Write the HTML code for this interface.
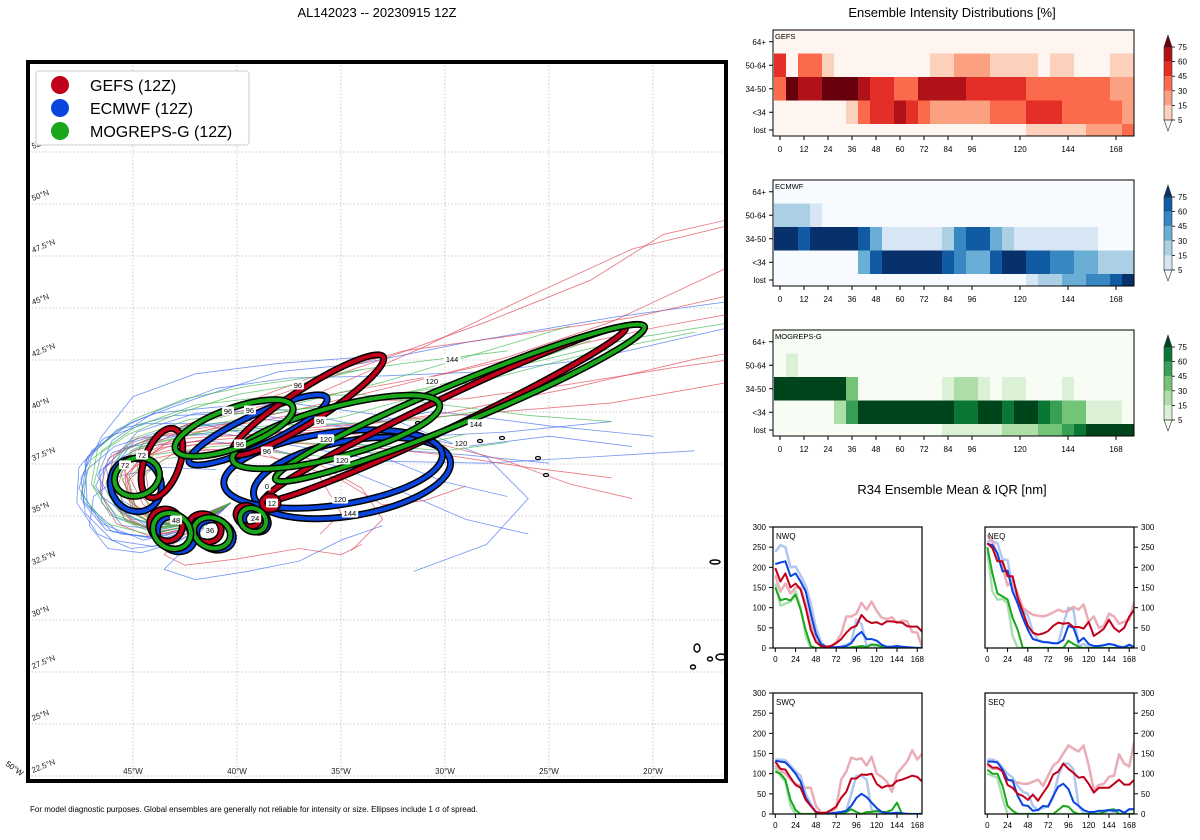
<!DOCTYPE html>
<html><head><meta charset="utf-8"><style>
html,body{margin:0;padding:0;background:#fff}
svg{display:block;font-family:"Liberation Sans","DejaVu Sans",sans-serif}
</style></head><body>
<svg id="chart" width="1200" height="840" viewBox="0 0 1200 840" xmlns="http://www.w3.org/2000/svg">
<rect x="0" y="0" width="1200" height="840" fill="#fff"/>
<text x="377" y="17" font-size="13" text-anchor="middle">AL142023 -- 20230915 12Z</text>
<text x="952" y="17" font-size="13" text-anchor="middle">Ensemble Intensity Distributions [%]</text>
<text x="952" y="494" font-size="13" text-anchor="middle">R34 Ensemble Mean &amp; IQR [nm]</text>
<text x="30" y="812" font-size="8">For model diagnostic purposes. Global ensembles are generally not reliable for intensity or size. Ellipses include 1 σ of spread.</text>
<g id="map"></g>
<g id="heat"></g>
<g id="r34"></g>
</svg>
<script>
// ---------- intensity data (percent per 6h column, t = 0..174) ----------
const heatTimes = [0,6,12,18,24,30,36,42,48,54,60,66,72,78,84,90,96,102,108,114,120,126,132,138,144,150,156,162,168,174];
const heatRowLabels = ["64+","50-64","34-50","<34","lost"];
const heatTickHours = [0,12,24,36,48,60,72,84,96,120,144,168];
const cbarTicks = [5,15,30,45,60,75];
const gefs64   = [0,0,0,0,0,0,0,0,0,0,0,0,0,0,0,0,0,0,0,0,0,0,0,0,0,0,0,0,0,0];
const gefs5064 = [52,0,38,38,10,0,0,0,0,0,0,0,0,10,10,22,22,22,10,10,10,10,0,10,10,0,0,0,10,10];
const gefs3450 = [38,80,68,68,80,80,80,68,52,52,38,38,68,68,68,68,52,52,52,52,52,38,38,38,38,38,38,38,22,22];
const gefsLt34 = [0,0,0,0,0,0,10,38,52,52,68,52,38,22,22,22,22,22,38,38,38,52,52,52,38,38,38,38,38,22];
const gefsLost = [0,0,0,0,0,0,0,0,0,0,0,0,0,0,0,0,0,0,0,0,0,10,10,10,10,10,22,22,22,38];
const ecmf64   = [0,0,0,0,0,0,0,0,0,0,0,0,0,0,0,0,0,0,0,0,0,0,0,0,0,0,0,0,0,0];
const ecmf5064 = [22,22,22,10,0,0,0,0,0,0,0,0,0,0,0,0,0,0,0,0,0,0,0,0,0,0,0,0,0,0];
const ecmf3450 = [80,80,68,80,80,80,80,68,38,10,10,10,10,10,22,52,68,68,38,22,10,10,10,10,10,10,10,0,0,0];
const ecmfLt34 = [0,0,0,0,0,0,0,38,68,80,80,80,80,80,68,52,38,38,68,80,80,68,68,52,52,38,38,22,22,22];
const ecmfLost = [0,0,0,0,0,0,0,0,0,0,0,0,0,0,0,0,0,0,0,0,0,10,22,22,38,38,52,52,68,80];
const mogr64   = [0,0,0,0,0,0,0,0,0,0,0,0,0,0,0,0,0,0,0,0,0,0,0,0,0,0,0,0,0,0];
const mogr5064 = [0,10,0,0,0,0,0,0,0,0,0,0,0,0,0,0,0,0,0,0,0,0,0,0,0,0,0,0,0,0];
const mogr3450 = [80,80,80,80,80,80,38,0,0,0,0,0,0,0,10,22,22,10,0,10,10,0,0,0,10,0,0,0,0,0];
const mogrLt34 = [0,0,0,0,0,22,52,80,80,80,80,80,80,80,80,68,68,80,80,68,80,80,68,52,38,38,10,10,10,0];
const mogrLost = [0,0,0,0,0,0,0,0,0,0,0,0,0,0,10,10,10,10,10,22,22,22,38,38,52,68,80,80,80,80];

// ---------- R34 data (nm, t = 0..174 every 6h) ----------
const r34Times = [0,6,12,18,24,30,36,42,48,54,60,66,72,78,84,90,96,102,108,114,120,126,132,138,144,150,156,162,168,174];
const r34Ticks = [0,50,100,150,200,250,300];
const r34HourTicks = [0,24,48,72,96,120,144,168];
const nwqGefsMean = [198,165,185,150,160,145,100,45,15,5,3,5,12,22,38,50,55,82,68,62,64,58,66,66,64,63,54,53,53,40];
const nwqGefsIqr  = [180,140,160,135,150,150,110,60,20,5,3,5,15,35,78,78,85,112,95,115,92,75,72,76,62,68,66,40,38,0];
const nwqEcmfMean = [208,212,215,178,185,165,140,85,35,10,3,2,2,3,5,12,30,40,22,22,18,8,3,3,5,3,2,1,0,0];
const nwqEcmfIqr  = [238,255,250,200,202,180,155,110,50,15,3,2,2,3,8,15,70,60,5,10,3,2,2,3,5,3,2,1,0,0];
const nwqMogrMean = [150,118,122,118,132,95,45,5,0,0,0,0,0,0,0,2,3,5,3,8,8,3,0,0,0,0,0,0,0,0];
const nwqMogrIqr  = [160,105,110,115,140,100,30,0,0,0,0,0,0,0,0,0,0,0,0,0,0,0,0,0,0,0,0,0,0,0];
const neqGefsMean = [260,248,215,215,178,178,125,90,55,38,33,36,42,55,63,60,62,52,52,48,65,30,38,48,70,50,40,50,78,95];
const neqGefsIqr  = [280,265,230,200,155,165,135,100,90,82,80,78,82,88,95,90,92,102,95,108,65,78,50,55,85,78,60,65,70,115];
const neqEcmfMean = [258,255,235,190,192,140,110,75,45,22,18,15,14,12,12,20,55,50,15,25,10,5,5,7,10,8,3,2,8,2];
const neqEcmfIqr  = [265,265,260,220,218,150,120,95,80,40,20,15,14,12,12,60,100,95,5,10,3,3,5,7,10,8,3,2,8,2];
const neqMogrMean = [250,185,135,128,120,75,45,0,0,0,0,0,0,0,0,0,18,10,3,0,0,0,0,0,0,0,0,0,0,0];
const neqMogrIqr  = [240,140,120,122,110,30,0,0,0,0,0,0,0,0,0,0,0,0,0,0,0,0,0,0,0,0,0,0,0,0];
const swqGefsMean = [130,112,110,90,72,65,35,20,5,2,3,10,18,40,55,88,88,98,97,100,75,65,70,70,82,85,90,95,92,80];
const swqGefsIqr  = [120,108,100,85,75,70,65,65,20,5,3,5,15,85,105,140,135,138,120,142,100,92,80,55,100,115,130,158,135,150];
const swqEcmfMean = [132,130,128,115,100,80,40,20,5,2,2,2,3,5,8,20,40,50,42,28,15,5,2,2,3,2,0,0,0,0];
const swqEcmfIqr  = [135,135,133,120,105,95,50,25,5,2,2,2,3,5,8,50,95,95,85,10,5,3,2,2,3,2,0,0,0,0];
const swqMogrMean = [105,100,85,35,10,0,0,0,0,0,0,0,0,0,5,12,5,0,5,5,8,5,5,10,28,0,0,0,0,0];
const swqMogrIqr  = [115,95,80,20,0,0,0,0,0,0,0,0,0,0,0,0,0,0,0,0,0,0,0,0,0,0,0,0,0,0];
const seqGefsMean = [125,115,115,105,72,65,50,45,35,48,33,52,70,98,105,125,112,102,90,92,75,53,65,65,65,75,85,73,73,85];
const seqGefsIqr  = [120,112,112,110,85,80,78,75,75,80,85,70,95,120,130,150,170,162,155,170,120,60,72,75,92,95,148,125,118,180];
const seqEcmfMean = [130,130,128,110,85,83,45,22,20,8,10,20,18,45,68,75,62,30,20,10,5,5,8,8,10,8,10,3,12,12];
const seqEcmfIqr  = [135,135,130,115,100,90,70,55,50,20,10,15,20,40,95,125,125,110,20,3,2,3,5,5,8,5,10,3,12,12];
const seqMogrMean = [110,100,100,70,20,8,0,0,0,0,0,0,0,0,10,20,18,5,0,0,0,0,0,5,10,12,0,0,0,0];
const seqMogrIqr  = [100,95,90,40,0,0,0,0,0,0,0,0,0,0,0,0,0,0,0,0,0,0,0,0,0,0,0,0,0,0];

// ---------- map data (lon, lat pairs) ----------
const gefsTracks = [
 [-40.3,35.3,-41.8,34.4,-43.6,34.1,-45.2,34.9,-46.3,36.2,-45.9,37.6,-44,38.5,-41,39,-37,39.8,-32,41,-27,42.3,-22,44,-16,46.8],
 [-40.3,35.3,-42,34.2,-44,33.9,-45.6,34.8,-46,36.5,-45,37.8,-42.5,38.4,-39,38.6,-35,38.9,-30,39.6,-24,40.8,-18,42.2,-13.5,43],
 [-40.3,35.3,-41.5,34.6,-43,34.4,-44.5,35.2,-45.2,36.6,-44.3,38,-41.5,39.3,-38,40.5,-33,42.2,-28,44,-23,46,-19.5,48.2,-16,49],
 [-40.3,35.3,-41.8,34.5,-43.3,34.3,-44.8,35,-45.5,36.4,-44.6,37.5,-42,38.1,-38,38.2,-34,38,-30,37.6,-26,37,-22,36.5],
 [-40.3,35.3,-42.2,34.1,-44.2,33.7,-45.8,34.3,-46.6,35.8,-46.2,37.4,-44.8,38.4,-42,38.7,-38.5,39.3,-34,40.2,-29,40.3,-24,41,-19,41.8,-14,42.5],
 [-40.3,35.3,-41.6,34.3,-42.8,33.6,-43.5,32.8,-42.5,32.3,-40,32.6,-37,33.1,-35,32.8,-34,33.3],
 [-40.3,35.3,-41.9,34.6,-43.4,34.5,-44.6,35.6,-44.8,37.1,-43.2,38.3,-40,39.2,-36,40.6,-31,42.8,-26,45.2,-21,47.5,-14,49.2],
 [-40.3,35.3,-42,34.4,-43.8,34.2,-45,35.1,-45.3,36.7,-43.8,37.9,-40.8,38.5,-36,38.7,-31,38.3,-27,37.3,-24,36.2,-21,35.5],
 [-40.3,35.3,-41.7,34.3,-43.4,33.8,-45,34.3,-45.9,35.6,-45.4,37.1,-43.3,38,-40,38.2,-36.5,37.4,-34,36,-33,34.5,-34.5,33],
 [-40.3,35.3,-42.1,34.5,-44,34.4,-45.3,35.5,-45.4,37,-43.6,38.6,-40.5,39.8,-36.5,41.3,-32,42.6,-27,43.3,-21,44.2,-14,45.8],
 [-40.3,35.3,-41.9,34.3,-43.7,33.9,-45.4,34.5,-46.1,35.9,-45.5,37.2,-43.5,38.1,-40.2,38.4,-36.5,38.9,-32,39.3,-27,39.7,-22,40.1,-14,41.5],
 [-40.3,35.3,-42,34.3,-43.9,34.1,-45.1,35,-45.3,36.3,-44.1,37.4,-41.8,37.9,-38.5,37.6,-36,36.5,-35,34.8,-36,33.8],
 [-40.3,35.3,-41.8,34.5,-43.5,34.3,-44.9,35.2,-45.4,36.8,-44.5,38.2,-42.3,39.1,-39,39.9,-35,40.6,-30,41.5,-25,42.6,-20,43.7,-14,44.8],
 [-40.3,35.3,-41.7,34.6,-43.1,34.6,-44.2,35.5,-44.4,36.8,-43,37.7,-40.5,37.9,-37.5,37.3,-35,36.4,-33,35.2,-31,35.4,-29,36.1]
];
const ecmfTracks = [
 [-40.3,35.3,-42,34.1,-44.5,33.5,-46.5,34.3,-47.6,36,-47,37.8,-45,39.2,-42,40.3,-38,41.6,-34,42,-29,43,-22,44.2,-14,45.3],
 [-40.3,35.3,-41.7,34.2,-43.5,33.6,-45.6,33.8,-47.2,35.2,-47.3,37.3,-45.8,38.8,-43,39.5,-39.5,39.6,-35.5,39,-31,38.5,-27,38.7,-22,39.2],
 [-40.3,35.3,-42,34,-44,33.2,-46,33.5,-47.3,34.8,-47.5,36.5,-46.5,38.5,-45,40.4,-42,41.5,-38,42,-34,42.3],
 [-40.3,35.3,-41.5,34.5,-43,34.2,-45,34.5,-46.5,35.6,-46.4,37,-44.6,38,-41.5,38.3,-38,37.8,-35,37,-32,35.8,-29,34.5,-26,33.8],
 [-40.3,35.3,-41.8,34.3,-43.6,33.9,-45.8,34.6,-46.8,36.1,-46,37.7,-43.8,38.5,-40.5,38.6,-37,38,-33,37.3,-28,37.2,-23,37.5,-18,37.8],
 [-40.3,35.3,-42,34.6,-44,34.5,-45.5,35.4,-46,36.9,-45,38.2,-42.5,39,-38.7,39.3,-34.5,39,-30.5,39.7,-25,39,-20,38.5],
 [-40.3,35.3,-41.4,34.3,-42.5,33.1,-43.5,32.1,-42,31.6,-39.5,32,-37,32.5,-35,33.5,-33,34.2],
 [-40.3,35.3,-41.9,34.2,-43.8,33.6,-46,33.9,-47.5,35.5,-47.2,37.5,-45.6,38.9,-44,39.6,-41,39.9,-37.5,40.1,-33,39.5,-28,37.5,-26,35.5,-28,33.3,-31.5,32],
 [-40.3,35.3,-42.3,34.4,-44.4,34.2,-45.9,35.2,-46.3,37,-44.8,38.7,-42,39.6,-38,39.8,-33,38.8,-29,38,-25,38.5,-21,38],
 [-40.3,35.3,-41.9,34.4,-43.9,34.1,-45.7,34.9,-46.7,36.6,-46,38.3,-43.9,39.7,-41,40.8,-37.5,41.3,-33,41.4,-28,41.6,-23,42.2,-16,43.8],
 [-40.3,35.3,-42.1,34.2,-44.2,33.6,-46.3,34,-47.4,35.3,-47.2,36.9,-45.9,38,-43.5,38.8,-40.5,39.1,-37,38.6,-33,37.9,-29,37.6,-25,37.2],
 [-40.3,35.3,-41.6,34.1,-43.2,33.3,-45.1,33.1,-46.7,33.8,-47.7,35.3,-47.6,37,-46.4,38.4,-44.4,39.1,-41.8,39.1,-39,38.5],
 [-40.3,35.3,-41.8,34.4,-43.7,34,-45.5,34.2,-46.5,35.3,-46.6,36.8,-45.4,37.9,-43,38.5,-40,38.8,-36.5,38.6,-33,37.5,-30,36.3,-27,35.6],
 [-40.3,35.3,-41.5,34.2,-42.9,33.4,-44.6,32.9,-46.2,33.1,-47.1,34.2,-46.9,35.6,-45.6,36.6,-43.5,37,-41,36.9]
];
const mogrTracks = [
 [-40.3,35.3,-41.9,34.4,-43.8,34.1,-45.5,34.8,-46.3,36.3,-45.6,37.7,-43.6,38.7,-40.5,39.2,-37,39.8,-33,40.4,-28,41.2,-23,42.5,-18,43.5],
 [-40.3,35.3,-42,34.3,-44,34,-45.8,34.7,-46.9,36.1,-46.5,37.8,-44.8,39,-42,40,-38.5,40.4,-34,40.5,-30,40,-26,39.5,-22,39.2],
 [-40.3,35.3,-41.8,34.5,-43.5,34.3,-45,35.1,-45.6,36.7,-44.6,38,-42,38.6,-38.5,38.9,-35,39.4,-31,40.5,-27,41.7,-23,43.1],
 [-40.3,35.3,-42.1,34.2,-44.3,33.8,-46.3,34.3,-47.5,35.7,-47,37.4,-45.2,38.6,-42.8,39.6,-40,40.5,-37,41,-34,41.7],
 [-40.3,35.3,-41.7,34.4,-43.4,34.2,-44.9,35,-45.2,36.5,-44,37.6,-41.2,38,-37.7,38.2,-34,38.1,-30,37.8,-27,38.2],
 [-40.3,35.3,-42,34.5,-44,34.3,-45.6,35.2,-46.1,36.9,-45,38.4,-42.3,39.3,-39,39.7,-35,39.9,-31,40.8,-26,42,-21,43.2,-16,44],
 [-40.3,35.3,-41.8,34.3,-43.6,33.9,-45.3,34.4,-46.2,35.7,-45.9,37.1,-44.3,38.1,-41.8,38.7,-38.5,39,-35,39.1,-31,39.3,-27,39.9],
 [-40.3,35.3,-42,34.4,-43.9,34.2,-45.4,35,-45.9,36.5,-45.1,37.8,-43.2,38.8,-40.4,39.5,-37,40.1,-33,41.1,-29,42.3,-24,43.8],
 [-40.3,35.3,-41.6,34.5,-43.1,34.4,-44.3,35.2,-44.6,36.5,-43.5,37.4,-41,37.8,-38,37.7,-35.5,37.5,-32,37.9,-29,38.6],
 [-40.3,35.3,-42.2,34.3,-44.4,34,-46.1,34.7,-47,36.2,-46.7,37.9,-45,39.3,-42.5,40.3,-39.5,40.9,-36,41.4,-32,42,-27,42.6]
];
// ellipses: center lon, center lat, semi-major deg, semi-minor deg, rotation deg
const gefsEllLon = [-43.61,-43.41,-41.54,-39.47,-38.41,-36.59,-30.0];
const gefsEllLat = [37.21,34.23,34.09,34.66,35.29,40.0,39.57];
const gefsEllA   = [1.75,0.8,0.8,0.6,0.38,4.3,9.6];
const gefsEllB   = [0.85,0.75,0.65,0.48,0.32,0.8,0.72];
const gefsEllRot = [-70,35,25,30,0,-32.6,-25.5];
const ecmfEllLon = [-44.86,-42.93,-41.06,-39.09,-38.99,-35.38,-34.47];
const ecmfEllLat = [36.15,33.8,33.75,34.42,38.8,36.92,36.49];
const ecmfEllA   = [1.3,0.95,0.9,0.62,3.65,5.3,4.8];
const ecmfEllB   = [1.2,0.8,0.7,0.5,0.75,1.75,1.8];
const ecmfEllRot = [60,35,20,30,-25,-8,-10];
const mogrEllLon = [-44.81,-43.13,-41.2,-39.23,-40.14,-35.24,-29.28];
const mogrEllLat = [36.54,33.94,33.85,34.47,38.89,38.7,40.1];
const mogrEllA   = [1.1,0.95,0.9,0.65,3.0,5.15,9.6];
const mogrEllB   = [0.9,0.82,0.72,0.55,0.95,1.2,0.95];
const mogrEllRot = [-20,35,20,30,-20,-15,-22.5];
const ellLabelLon = [-37.07,-30.63,-29.66,-28.51,-29.23,-40.43,-39.38,-36.0,-39.86,-38.56,-35.72,-34.95,-35.05,-34.57,-38.56,-38.32,-45.38,-44.57,-42.93,-41.3,-39.13];
const ellLabelLat = [40.96,41.15,42.2,39.09,38.17,39.71,39.76,39.23,38.13,37.79,38.37,37.36,35.48,34.81,36.1,35.29,37.12,37.6,34.47,33.99,34.57];
const ellLabelTxt = ["96","120","144","144","120","96","96","96","96","96","120","120","120","144","0","12","72","72","48","36","24"];
const gridLats = [22.5,25,27.5,30,32.5,35,37.5,40,42.5,45,47.5,50,52.5];
const gridLons = [-45,-40,-35,-30,-25,-20];

const NS = "http://www.w3.org/2000/svg";
function mk(tag, attrs, parent){ const e=document.createElementNS(NS,tag); for(const k in attrs) e.setAttribute(k,attrs[k]); parent.appendChild(e); return e; }

// ================= MAP =================
const map = document.getElementById('map');
const MX0=28, MY0=62, MX1=726, MY1=781;
const lonX = lon => 133 + (lon + 45) * 20.8;
const latY = lat => 197 + (50 - lat) * 20.8;
const gridY = lat => 204 + (50 - lat) * 20.8;
const defs = mk('defs',{},map);
const cp = mk('clipPath',{id:'mapclip'},defs);
mk('rect',{x:MX0,y:MY0,width:MX1-MX0,height:MY1-MY0},cp);
const inner = mk('g',{'clip-path':'url(#mapclip)'},map);
gridLats.forEach(lat=>{
  const l = mk('line',{x1:MX0,x2:MX1,y1:gridY(lat),y2:gridY(lat),stroke:'#bbb','stroke-width':0.8,'stroke-dasharray':'1.5,2'},inner);
  
  
  const t = mk('text',{x:33,y:gridY(lat)-3,'font-size':8,transform:`rotate(-22 33 ${gridY(lat)-3})`,fill:'#222'},inner);
  t.textContent = lat+'°N';
  
  
});
gridLons.forEach(lon=>{
  const l = mk('line',{x1:lonX(lon),x2:lonX(lon),y1:MY0,y2:MY1,stroke:'#bbb','stroke-width':0.8,'stroke-dasharray':'1.5,2'},inner);
  
  
  const t = mk('text',{x:lonX(lon),y:774,'font-size':8,'text-anchor':'middle',fill:'#222'},inner);
  t.textContent = (-lon)+'°W';
  
  
});
function drawTracks(tracks,color,name){
  tracks.forEach(tr=>{
    let d='';
    for(let i=0;i<tr.length;i+=2) d += (i?'L':'M')+lonX(tr[i]).toFixed(1)+','+latY(tr[i+1]).toFixed(1);
    const p = mk('path',{d:d,fill:'none',stroke:color,'stroke-width':0.85,opacity:0.7},inner);
    
    
  });
}
drawTracks(ecmfTracks,'#3a6ef0','ecmwf-member-track');
drawTracks(gefsTracks,'#e0404f','gefs-member-track');
drawTracks(mogrTracks,'#3cb84a','mogreps-member-track');
[[715,562,5,2],[697,648,3,4],[710,659,2.5,2],[693,667,2.5,2],[721,657,5,3]].forEach(a=>{
  const e = mk('ellipse',{cx:a[0],cy:a[1],rx:a[2],ry:a[3],fill:'#fff',stroke:'#000','stroke-width':1.4},inner);
  
  
});
[[418,423],[480,441],[502,438],[538,458],[546,475]].forEach(a=>{
  const e = mk('ellipse',{cx:a[0],cy:a[1],rx:2.5,ry:1.5,fill:'#fff',stroke:'#000','stroke-width':1.2},inner);
  
  
});
function drawEll(lons,lats,as,bs,rots,color,name){
  for(let i=lons.length-1;i>=0;i--){
    const cx=lonX(lons[i]), cy=latY(lats[i]), rx=as[i]*20.8, ry=bs[i]*20.8;
    const tr=`rotate(${rots[i]} ${cx} ${cy})`;
    const o = mk('ellipse',{cx:cx,cy:cy,rx:rx,ry:ry,transform:tr,fill:'none',stroke:'#000','stroke-width':7},inner);
    
    
    const e = mk('ellipse',{cx:cx,cy:cy,rx:rx,ry:ry,transform:tr,fill:'none',stroke:color,'stroke-width':4},inner);
    
    
  }
}
drawEll(ecmfEllLon,ecmfEllLat,ecmfEllA,ecmfEllB,ecmfEllRot,'#0a45e0','ecmwf-spread-ellipse');
drawEll(gefsEllLon,gefsEllLat,gefsEllA,gefsEllB,gefsEllRot,'#c0001a','gefs-spread-ellipse');
drawEll(mogrEllLon,mogrEllLat,mogrEllA,mogrEllB,mogrEllRot,'#1aa81a','mogreps-spread-ellipse');
ellLabelTxt.forEach((t,i)=>{
  const x=lonX(ellLabelLon[i]), y=latY(ellLabelLat[i]);
  const w = t.length*4.5+3;
  const r = mk('rect',{x:x-w/2,y:y-4.5,width:w,height:9,rx:1.5,fill:'#fff'},inner);
  
  
  const tx = mk('text',{x:x,y:y+3,'font-size':7.5,'text-anchor':'middle',fill:'#000'},inner);
  tx.textContent=t;
  
  
});
const fr = mk('rect',{x:MX0,y:MY0,width:MX1-MX0,height:MY1-MY0,fill:'none',stroke:'#000','stroke-width':4},map);


const c50 = mk('text',{x:5,y:765,'font-size':8,transform:'rotate(35 5 765)'},map);
c50.textContent='50°W';


const lg = mk('g',{},map);


mk('rect',{x:36,y:71,width:213,height:74,rx:3,fill:'#fff',stroke:'#ccc','stroke-width':1},lg);
[['GEFS (12Z)','#c0001a'],['ECMWF (12Z)','#0a45e0'],['MOGREPS-G (12Z)','#1aa81a']].forEach((e,i)=>{
  const c = mk('circle',{cx:60,cy:85+i*23,r:9,fill:e[1]},lg);
  
  
  const t = mk('text',{x:90,y:91+i*23,'font-size':16},lg);
  t.textContent=e[0];
  
  
});

// ================= HEATMAPS =================
const heat = document.getElementById('heat');
const reds  = ['#fff5f0','#fdd0bc','#fca082','#fb6a4a','#e32f27','#b11218','#67000d'];
const blues = ['#f7fbff','#d6e6f4','#abd0e6','#6aaed6','#3787c0','#105ba4','#08306b'];
const greens= ['#f7fcf5','#dbf1d5','#aedea7','#73c476','#37a055','#0b7734','#00441b'];
function lvl(p){ let k=0; for(let i=0;i<cbarTicks.length;i++) if(p>=cbarTicks[i]) k=i+1; return k; }
function drawHeat(top,rows,pal,label){
  const g = mk('g',{},heat);
  
  
  const L=773,R=1134,B=top+106;
  const hx = t => 780 + 2*t;
  const rowH=23.5;
  const ry = v => top + (4.5-v)*rowH;
  rows.forEach((arr,ri)=>{
    const v = 4-ri;
    const y0 = ry(v+0.5), y1 = v===0 ? B : ry(v-0.5);
    arr.forEach((p,ci)=>{
      const c = mk('rect',{x:hx(heatTimes[ci]-3),y:y0,width:12.2,height:y1-y0+0.2,fill:pal[lvl(p)]},g);
      
      
    });
    const ty = v===0 ? (y0+B)/2 : ry(v);
    mk('line',{x1:L-4,x2:L,y1:ty,y2:ty,stroke:'#000','stroke-width':1},g);
    const t = mk('text',{x:L-7,y:ty+3,'font-size':8,'text-anchor':'end'},g);
    t.textContent = heatRowLabels[ri];
    
    
  });
  mk('rect',{x:L,y:top,width:R-L,height:B-top,fill:'none',stroke:'#000','stroke-width':1},g);
  const nm = mk('text',{x:L+2,y:top+9,'font-size':7.5},g);
  nm.textContent=label;
  
  
  heatTickHours.forEach(h=>{
    mk('line',{x1:hx(h),x2:hx(h),y1:B,y2:B+4,stroke:'#000','stroke-width':1},g);
    const t = mk('text',{x:hx(h),y:B+16,'font-size':8,'text-anchor':'middle'},g);
    t.textContent=h;
    
    
  });
  const cb = mk('g',{},g);
  
  
  const cx0=1164, cw=8;
  const cy = v => top+90 - (cbarTicks.indexOf(v))*14.6;
  for(let i=0;i<cbarTicks.length-1;i++){
    mk('rect',{x:cx0,y:cy(cbarTicks[i+1]),width:cw,height:14.6,fill:pal[i+1]},cb);
  }
  mk('polygon',{points:`${cx0},${cy(75)} ${cx0+cw},${cy(75)} ${cx0+cw/2},${top+5}`,fill:pal[6],stroke:'#333','stroke-width':0.6},cb);
  mk('polygon',{points:`${cx0},${cy(5)} ${cx0+cw},${cy(5)} ${cx0+cw/2},${top+101}`,fill:pal[0],stroke:'#333','stroke-width':0.6},cb);
  mk('rect',{x:cx0,y:cy(75),width:cw,height:cy(5)-cy(75),fill:'none',stroke:'#333','stroke-width':0.6},cb);
  cbarTicks.forEach(v=>{
    mk('line',{x1:cx0+cw,x2:cx0+cw+3,y1:cy(v),y2:cy(v),stroke:'#000','stroke-width':0.8},cb);
    const t = mk('text',{x:cx0+cw+6,y:cy(v)+3,'font-size':8},cb);
    t.textContent=v;
    
    
  });
}
drawHeat(30,[gefs64,gefs5064,gefs3450,gefsLt34,gefsLost],reds,'GEFS');
drawHeat(180,[ecmf64,ecmf5064,ecmf3450,ecmfLt34,ecmfLost],blues,'ECMWF');
drawHeat(330,[mogr64,mogr5064,mogr3450,mogrLt34,mogrLost],greens,'MOGREPS-G');

// ================= R34 =================
const r34 = document.getElementById('r34');
function drawR34(L,T,right,label,series){
  const g = mk('g',{},r34);
  
  
  const W=149, H=121;
  const x = t => L + 2.3 + t*0.845;
  const y = v => T + H - v*H/300;
  const cid='clip'+label;
  const c = mk('clipPath',{id:cid},defs); mk('rect',{x:L,y:T-2,width:W,height:H+2},c);
  const pg = mk('g',{'clip-path':`url(#${cid})`},g);
  series.forEach(s=>{
    let d=''; s[0].forEach((v,i)=>{ d += (i?'L':'M')+x(r34Times[i]).toFixed(1)+','+y(v).toFixed(1); });
    const p = mk('path',{d:d,fill:'none',stroke:s[1],'stroke-width':s[2],'stroke-linejoin':'round',opacity:s[3]},pg);
    
    
  });
  mk('rect',{x:L,y:T,width:W,height:H,fill:'none',stroke:'#000','stroke-width':1.2},g);
  const nm = mk('text',{x:L+3,y:T+12,'font-size':8},g);
  nm.textContent=label;
  
  
  r34Ticks.forEach(v=>{
    const ax = right ? L+W : L;
    mk('line',{x1:ax,x2:right?ax+4:ax-4,y1:y(v),y2:y(v),stroke:'#000','stroke-width':1},g);
    const t = mk('text',{x:right?ax+7:ax-7,y:y(v)+3,'font-size':8,'text-anchor':right?'start':'end'},g);
    t.textContent=v;
    
    
  });
  r34HourTicks.forEach(h=>{
    mk('line',{x1:x(h),x2:x(h),y1:T+H,y2:T+H+4,stroke:'#000','stroke-width':1},g);
    const t = mk('text',{x:x(h),y:T+H+14,'font-size':8,'text-anchor':'middle'},g);
    t.textContent=h;
    
    
  });
}
function ser(gm,gi,em,ei,mm,mi){
  return [[ei,'#a8c0f0',2.5,0.9,'ecmwf-iqr-line'],[gi,'#e8a4b0',2.5,0.9,'gefs-iqr-line'],[mi,'#a0dca8',2.5,0.9,'mogreps-iqr-line'],
          [mm,'#1aa81a',2,1,'mogreps-mean-line'],[em,'#0a45e0',2,1,'ecmwf-mean-line'],[gm,'#c0001a',2,1,'gefs-mean-line']];
}
drawR34(773,527,false,'NWQ',ser(nwqGefsMean,nwqGefsIqr,nwqEcmfMean,nwqEcmfIqr,nwqMogrMean,nwqMogrIqr));
drawR34(985,527,true,'NEQ',ser(neqGefsMean,neqGefsIqr,neqEcmfMean,neqEcmfIqr,neqMogrMean,neqMogrIqr));
drawR34(773,693,false,'SWQ',ser(swqGefsMean,swqGefsIqr,swqEcmfMean,swqEcmfIqr,swqMogrMean,swqMogrIqr));
drawR34(985,693,true,'SEQ',ser(seqGefsMean,seqGefsIqr,seqEcmfMean,seqEcmfIqr,seqMogrMean,seqMogrIqr));
</script>
</body></html>
